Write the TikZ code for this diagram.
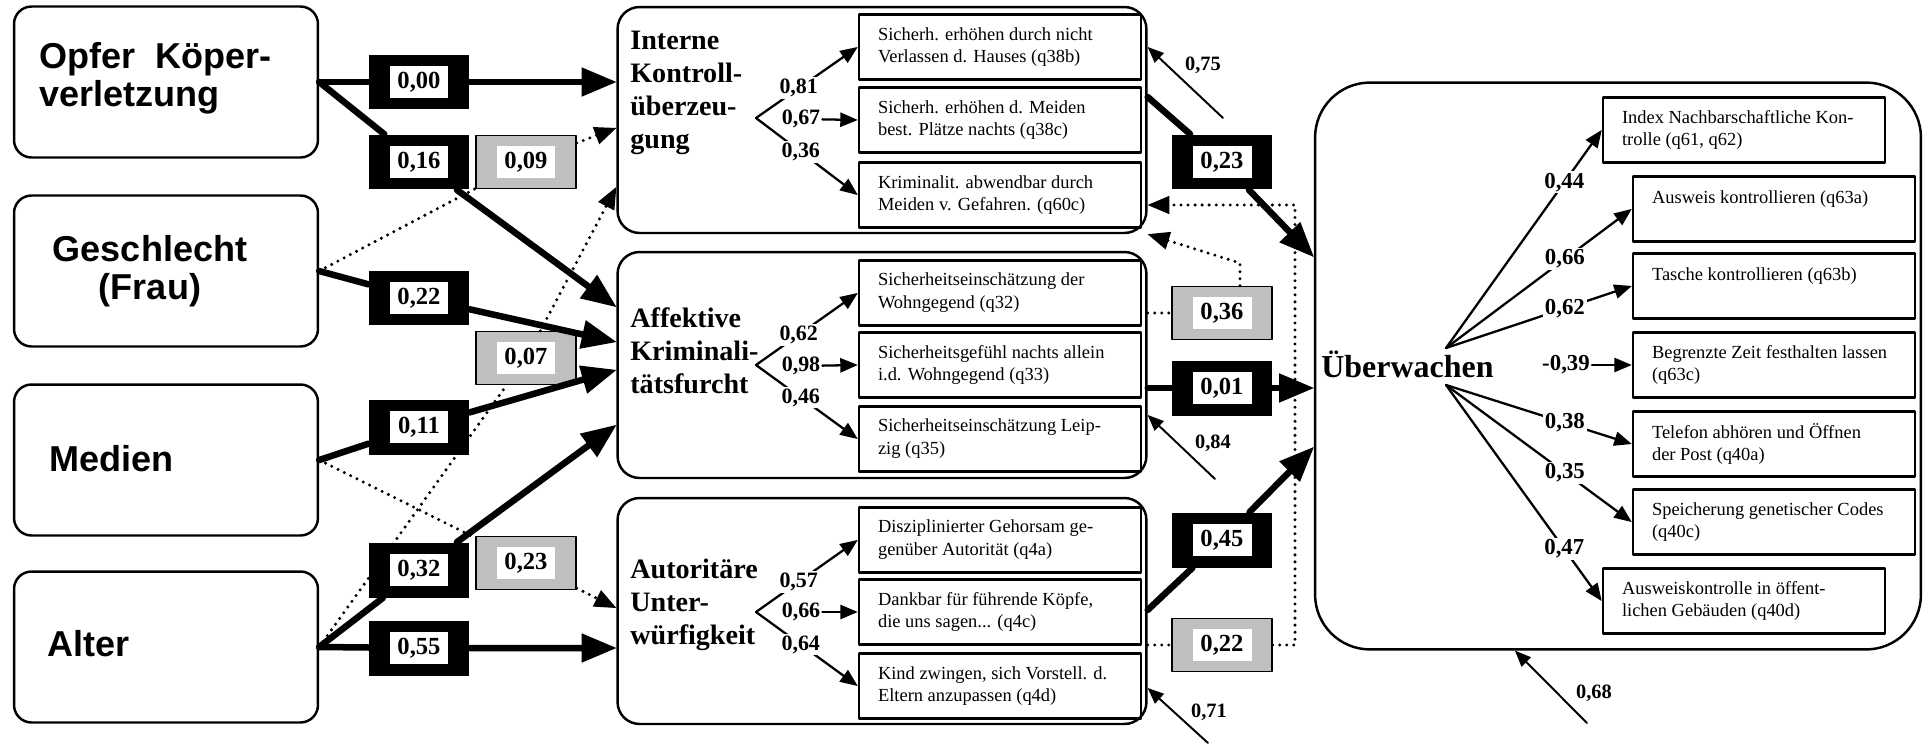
\documentclass[tikz,border=0pt]{standalone}
\usepackage{fontspec}
\setmainfont{Liberation Serif}
\newfontfamily\arialfont{Liberation Sans}
\usepackage{tikz}
\usetikzlibrary{arrows}

\tikzset{
  latbox/.style={draw,line width=1.4pt,rounded corners=0.35cm,minimum width=6.08cm,minimum height=3.02cm,inner sep=0pt},
  midbox/.style={draw,line width=1.4pt,rounded corners=0.44cm,minimum width=10.58cm,minimum height=4.52cm,inner sep=0pt},
  itembox/.style={draw,line width=1.5pt,minimum width=5.64cm,minimum height=1.3cm,text width=4.88cm,inner xsep=0.38cm,inner ysep=0pt,align=flush left,font=\fontsize{10.5}{13}\selectfont},
  lattext/.style={inner sep=0pt,font=\arialfont\bfseries\fontsize{20.5}{21.6}\selectfont},
  headtext/.style={inner sep=0pt,anchor=west,align=left,font=\bfseries\fontsize{16}{18.8}\selectfont},
  coefb/.style={fill=black,minimum width=2cm,minimum height=1.1cm,inner sep=0pt},
  coefg/.style={fill=black!25,draw=black,line width=0.8pt,minimum width=2cm,minimum height=1.06cm,inner sep=0pt},
  coefin/.style={fill=white,minimum width=1.18cm,minimum height=0.64cm,inner sep=0pt,font=\bfseries\fontsize{14}{16}\selectfont},
  ld/.style={fill=white,inner sep=1pt,font=\bfseries\fontsize{12.5}{14}\selectfont},
  ldr/.style={fill=white,inner sep=1pt,font=\bfseries\fontsize{13}{15}\selectfont},
  reslbl/.style={inner sep=0pt,font=\bfseries\fontsize{11.6}{13}\selectfont},
  pfad/.style={line width=3.7pt,->},
  dotpfad/.style={line width=1.9pt,dash pattern=on 0pt off 4pt,->},
  ldpfad/.style={line width=1.3pt,->},
  respfad/.style={line width=1.1pt,->}
}

\begin{document}
\begin{tikzpicture}[line cap=round,line join=round,>=triangle 45,x=0.02cm,y=-0.02cm]
	\useasboundingbox (0,0) rectangle (1931,744);

	% exogene Variablen
	\node[latbox] (opfer) at (166,82) {};
	\node[latbox] (geschl) at (166,271) {};
	\node[latbox] (medien) at (166,460) {};
	\node[latbox] (alter) at (166,647) {};
	\node[lattext,anchor=west,align=left] (opfert) at (39,78) {Opfer\hspace{0.55em}Köper-\\verletzung};
	\node[lattext,align=center] (geschlt) at (150,271) {Geschlecht\\(Frau)};
	\node[lattext,anchor=west] (medient) at (49,459) {Medien};
	\node[lattext,anchor=west] (altert) at (47,644) {Alter};

	% Mediatoren
	\node[midbox] (ik) at (882,120) {};
	\node[midbox] (akf) at (882,365) {};
	\node[midbox] (aut) at (882,611) {};
	\node[headtext] (ikt) at (630,93) {Interne\\Kontroll-\\überzeu-\\gung};
	\node[headtext] (akft) at (630,351) {Affektive\\Kriminali-\\tätsfurcht};
	\node[headtext] (autt) at (630,605) {Autoritäre\\Unter-\\würfigkeit};

	\node[itembox] (ik1) at (1000,47) {Sicherh. erhöhen durch nicht\\Verlassen d. Hauses (q38b)};
	\node[itembox] (ik2) at (1000,120) {Sicherh. erhöhen d. Meiden\\best. Plätze nachts (q38c)};
	\node[itembox] (ik3) at (1000,195) {Kriminalit. abwendbar durch\\Meiden v. Gefahren. (q60c)};
	\node[itembox] (akf1) at (1000,293) {Sicherheitseinschätzung der\\Wohngegend (q32)};
	\node[itembox] (akf2) at (1000,365) {Sicherheitsgefühl nachts allein\\i.d. Wohngegend (q33)};
	\node[itembox] (akf3) at (1000,439) {Sicherheitseinschätzung Leip-\\zig (q35)};
	\node[itembox] (aut1) at (1000,540) {Disziplinierter Gehorsam ge-\\genüber Autorität (q4a)};
	\node[itembox] (aut2) at (1000,612) {Dankbar für führende Köpfe,\\die uns sagen... (q4c)};
	\node[itembox] (aut3) at (1000,686) {Kind zwingen, sich Vorstell. d.\\Eltern anzupassen (q4d)};

	% Zielvariable
	\node[draw,line width=1.4pt,rounded corners=1.1cm,minimum width=12.12cm,minimum height=11.34cm,inner sep=0pt] (uew) at (1618,366) {};
	\node[inner sep=0pt,anchor=west,font=\bfseries\fontsize{18.2}{20}\selectfont] (uewt) at (1321,364) {Überwachen};
	\node[itembox] (idx) at (1744,130) {Index Nachbarschaftliche Kon-\\trolle (q61, q62)};
	\node[itembox] (ausw) at (1774,209) {Ausweis kontrollieren (q63a)\\\mbox{}};
	\node[itembox] (tas) at (1774,286) {Tasche kontrollieren (q63b)\\\mbox{}};
	\node[itembox] (beg) at (1774,365) {Begrenzte Zeit festhalten lassen\\(q63c)};
	\node[itembox] (tel) at (1774,444) {Telefon abhören und Öffnen\\der Post (q40a)};
	\node[itembox] (spe) at (1774,522) {Speicherung genetischer Codes\\(q40c)};
	\node[itembox] (awk) at (1744,601) {Ausweiskontrolle in öffent-\\lichen Gebäuden (q40d)};

	% Pfadkoeffizienten
	\node[coefb] (k000) at (419,82) {};
	\node[coefin] (k000i) at (k000) {0,00};
	\node[coefb] (k016) at (419,162) {};
	\node[coefin] (k016i) at (k016) {0,16};
	\node[coefg] (k009) at (526,162) {};
	\node[coefin] (k009i) at (k009) {0,09};
	\node[coefb] (k022) at (419,298) {};
	\node[coefin] (k022i) at (k022) {0,22};
	\node[coefg] (k007) at (526,358) {};
	\node[coefin] (k007i) at (k007) {0,07};
	\node[coefb] (k011) at (419,427) {};
	\node[coefin] (k011i) at (k011) {0,11};
	\node[coefb] (k032) at (419,570) {};
	\node[coefin] (k032i) at (k032) {0,32};
	\node[coefg] (k023) at (526,563) {};
	\node[coefin] (k023i) at (k023) {0,23};
	\node[coefb] (k055) at (419,648) {};
	\node[coefin] (k055i) at (k055) {0,55};

	\node[coefb] (k023r) at (1222,162) {};
	\node[coefin] (k023ri) at (k023r) {0,23};
	\node[coefg] (k036) at (1222,313) {};
	\node[coefin] (k036i) at (k036) {0,36};
	\node[coefb] (k001) at (1222,388) {};
	\node[coefin] (k001i) at (k001) {0,01};
	\node[coefb] (k045) at (1222,540) {};
	\node[coefin] (k045i) at (k045) {0,45};
	\node[coefg] (k022r) at (1222,645) {};
	\node[coefin] (k022ri) at (k022r) {0,22};

	% Pfade links
	\draw[pfad] (opfer.east) -- (k000) -- (ik.west |- k000);
	\draw[pfad] (opfer.east) -- (k016) -- (akf.west |- 0,307);
	\draw[dotpfad] (geschl.east) -- (k009) -- (ik.west |- 0,128);
	\draw[pfad] (geschl.east) -- (k022) -- (akf.west |- 0,342);
	\draw[pfad] (medien.east) -- (k011) -- (akf.west |- 0,370);
	\draw[dotpfad] (medien.east) -- (k023) -- (aut.west |- 0,608);
	\draw[pfad] (alter.east) -- (k032) -- (akf.west |- 0,425);
	\draw[pfad] (alter.east) -- (k055) -- (aut.west |- k055);
	\draw[dotpfad] (alter.east) -- (k007) -- (ik.west |- 0,187);

	% Pfade rechts
	\coordinate (d36) at (1240,263);
	\coordinate (d22) at (1295,645);
	\coordinate (d22o) at (1295,205);
	\draw[pfad] (ik.east |- 0,97) -- (k023r) -- (uew.west |- 0,257);
	\draw[pfad] (akf.east |- k001) -- (k001) -- (uew.west |- k001);
	\draw[pfad] (aut.east |- 0,610) -- (k045) -- (uew.west |- 0,447);
	\draw[dotpfad] (akf.east |- k036) -- (k036) (k036.north -| d36) -- (d36) -- (ik.south east);
	\draw[dotpfad] (aut.east |- k022r) -- (k022r) (k022r.east) -- (d22) -- (d22o) -- (ik.east |- d22o);

	% Residuen
	\coordinate (e75) at (1223,118);
	\coordinate (e84) at (1215,479);
	\coordinate (e71) at (1208,743);
	\coordinate (e68) at (1587,723);
	\coordinate (e68z) at (1515,650);
	\draw[respfad] (e75) -- (ik.east |- 0,47);
	\draw[respfad] (e84) -- (akf.east |- 0,415);
	\draw[respfad] (e71) -- (aut.east |- 0,688);
	\draw[respfad] (e68) -- (uew.south -| e68z);
	\node[reslbl] (r75) at (1203,65) {0,75};
	\node[reslbl] (r84) at (1213,443) {0,84};
	\node[reslbl] (r71) at (1209,712) {0,71};
	\node[reslbl] (r68) at (1594,693) {0,68};

	% Ladungen Mediatoren
	\coordinate (ikf) at (756,118);
	\coordinate (akff) at (756,365);
	\coordinate (autf) at (756,612);
	\draw[ldpfad] (ikf) -- node[ld,pos=0.42] (l081) {0,81} (ik1.west);
	\node[ld] (l067) at (801,119) {0,67};
	\draw[ldpfad] (l067) -- (ik2.west);
	\draw[ldpfad] (ikf) -- node[ld,pos=0.44] (l036) {0,36} (ik3.west);
	\draw[ldpfad] (akff) -- node[ld,pos=0.42] (l062) {0,62} (akf1.west);
	\node[ld] (l098) at (801,366) {0,98};
	\draw[ldpfad] (l098) -- (akf2.west);
	\draw[ldpfad] (akff) -- node[ld,pos=0.44] (l046) {0,46} (akf3.west);
	\draw[ldpfad] (autf) -- node[ld,pos=0.42] (l057) {0,57} (aut1.west);
	\node[ld] (l066) at (801,612) {0,66};
	\draw[ldpfad] (l066) -- (aut2.west);
	\draw[ldpfad] (autf) -- node[ld,pos=0.44] (l064) {0,64} (aut3.west);

	% Ladungen Ueberwachen
	\coordinate (uf1) at (1446,348);
	\coordinate (uf2) at (1446,385);
	\draw[ldpfad] (uf1) -- node[ldr,pos=0.76] (l044) {0,44} (idx.west);
	\draw[ldpfad] (uf1) -- node[ldr,pos=0.64] (l066r) {0,66} (ausw.west);
	\draw[ldpfad] (uf1) -- node[ldr,pos=0.64] (l062r) {0,62} (tas.west);
	\node[ldr] (l039) at (1566,365) {-0,39};
	\draw[ldpfad] (l039) -- (beg.west);
	\draw[ldpfad] (uf2) -- node[ldr,pos=0.64] (l038) {0,38} (tel.west);
	\draw[ldpfad] (uf2) -- node[ldr,pos=0.64] (l035) {0,35} (spe.west);
	\draw[ldpfad] (uf2) -- node[ldr,pos=0.76] (l047) {0,47} (awk.west);
\end{tikzpicture}
\end{document}
